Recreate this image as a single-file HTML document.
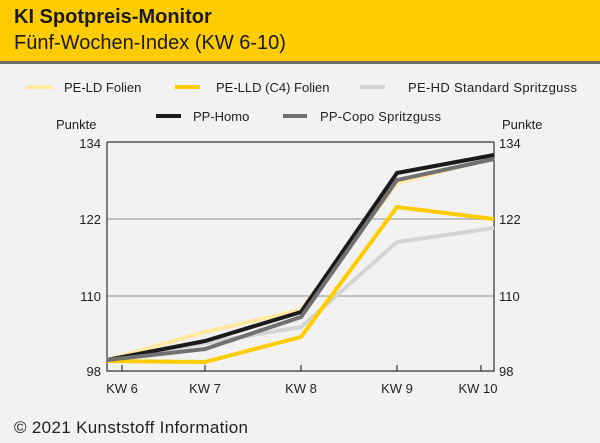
<!DOCTYPE html>
<html><head><meta charset="utf-8"><style>
body{margin:0;width:600px;height:443px;background:#f1f2f1;font-family:"Liberation Sans",sans-serif;overflow:hidden;position:relative}
.hd{position:absolute;left:0;top:0;width:600px;height:61px;background:#ffcc00;border-bottom:3px solid #6b6b6b}
.t1{position:absolute;left:14px;top:6px;font-size:20px;font-weight:bold;color:#1a1a1a}
.t2{position:absolute;left:14px;top:32px;font-size:20px;color:#1a1a1a}
</style></head><body>
<div class="hd"><div class="t1">KI Spotpreis-Monitor</div><div class="t2">Fünf-Wochen-Index (KW 6-10)</div></div>
<svg width="600" height="443" style="position:absolute;left:0;top:0" font-family="Liberation Sans, sans-serif" font-size="13" fill="#222">
<g stroke-width="4">
<line x1="27" y1="87" x2="52" y2="87" stroke="#ffe8a0"/>
<line x1="175" y1="87" x2="200" y2="87" stroke="#ffcc00"/>
<line x1="360" y1="87" x2="385" y2="87" stroke="#d4d4d4"/>
<line x1="156" y1="116" x2="181" y2="116" stroke="#1a1a1a"/>
<line x1="283" y1="116" x2="307" y2="116" stroke="#707070"/>
</g>
<text x="64" y="92">PE-LD Folien</text>
<text x="216" y="92">PE-LLD (C4) Folien</text>
<text x="408" y="92" textLength="169">PE-HD Standard Spritzguss</text>
<text x="193" y="121">PP-Homo</text>
<text x="320" y="121" textLength="121">PP-Copo Spritzguss</text>
<text x="56" y="129">Punkte</text>
<text x="502" y="129">Punkte</text>
<g stroke="#b0b0b0" stroke-width="1.5"><line x1="107" y1="219" x2="494" y2="219"/><line x1="107" y1="296" x2="494" y2="296"/></g>
<g stroke="#333" stroke-width="1.2" fill="none">
<polyline points="107,142 107,371 494,371 494,142"/>
<line x1="107" y1="142" x2="494" y2="142" stroke="#333"/>
<line x1="122" y1="365" x2="122" y2="371"/><line x1="205" y1="365" x2="205" y2="371"/><line x1="301" y1="365" x2="301" y2="371"/><line x1="397" y1="365" x2="397" y2="371"/><line x1="481" y1="365" x2="481" y2="371"/>
</g>
<g text-anchor="end"><text x="101" y="148">134</text><text x="101" y="224">122</text><text x="101" y="301">110</text><text x="101" y="376">98</text></g>
<g><text x="499" y="148">134</text><text x="499" y="224">122</text><text x="499" y="301">110</text><text x="499" y="376">98</text></g>
<g text-anchor="middle"><text x="122" y="393">KW 6</text><text x="205" y="393">KW 7</text><text x="301" y="393">KW 8</text><text x="397" y="393">KW 9</text><text x="478" y="393">KW 10</text></g>
<g fill="none" stroke-width="4" stroke-linejoin="miter">
<polyline points="107,360 205,332 301,310 397,183 494,158" stroke="#ffe8a0"/>
<polyline points="107,360 205,343 301,327 397,242 494,228" stroke="#d4d4d4"/>
<polyline points="107,361 205,362 301,337 397,207 494,219" stroke="#ffcc00"/>
<polyline points="107,360 205,341 301,312 397,173 494,155" stroke="#1a1a1a"/>
<polyline points="107,360 205,349 301,317 397,180 494,159" stroke="#707070"/>
</g>
<text x="14" y="433" font-size="17" textLength="234">© 2021 Kunststoff Information</text>
</svg>
</body></html>
